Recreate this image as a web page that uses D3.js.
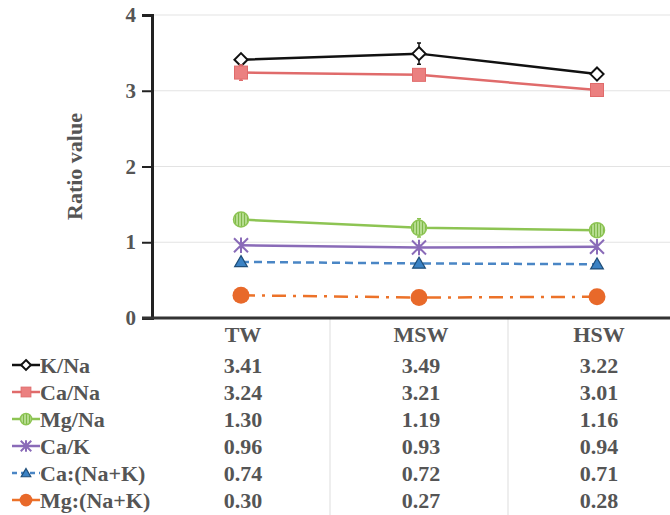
<!DOCTYPE html>
<html>
<head>
<meta charset="utf-8">
<script src="https://cdn.jsdelivr.net/npm/d3@7"></script>
<style>
  body { margin: 0; background: #fff; }
  svg { display: block; }
</style>
</head>
<body>
<svg id="chart"></svg>
<script>
// data
const categories = ['TW', 'MSW', 'HSW'];
const seriesNames = ['K/Na', 'Ca/Na', 'Mg/Na', 'Ca/K', 'Ca:(Na+K)', 'Mg:(Na+K)'];
const kNa = [3.41, 3.49, 3.22];
const caNa = [3.24, 3.21, 3.01];
const mgNa = [1.30, 1.19, 1.16];
const caK = [0.96, 0.93, 0.94];
const caNaK = [0.74, 0.72, 0.71];
const mgNaK = [0.30, 0.27, 0.28];
// error bar half widths (estimated)
const kNaErr = [0.04, 0.14, 0.03];
const caNaErr = [0.10, 0.05, 0.03];
const mgNaErr = [0.05, 0.12, 0.04];
const caKErr = [0.03, 0.03, 0.03];
const caNaKErr = [0.02, 0.02, 0.02];
const mgNaKErr = [0.02, 0.02, 0.02];
const yTicks = [0, 1, 2, 3, 4];

// drawing constants
const W = 670, H = 515;
const LEFT = 152, RIGHT = 686, TOP = 15, BOTTOM = 318;
const FONT = '"Liberation Serif", "Times New Roman", serif';
const TEXT_COLOR = '#555';
const FS = 22;

const series = [
  {name: seriesNames[0], values: kNa, err: kNaErr, color: '#111', marker: 'diamond', dash: null},
  {name: seriesNames[1], values: caNa, err: caNaErr, color: '#e06b6b', marker: 'square', dash: null},
  {name: seriesNames[2], values: mgNa, err: mgNaErr, color: '#8dc453', marker: 'stripe', dash: null},
  {name: seriesNames[3], values: caK, err: caKErr, color: '#8a6bb8', marker: 'star', dash: null},
  {name: seriesNames[4], values: caNaK, err: caNaKErr, color: '#4a86c5', marker: 'triangle', dash: '8,5'},
  {name: seriesNames[5], values: mgNaK, err: mgNaKErr, color: '#ec7229', marker: 'circle', dash: '14,7,3,7'}
];

const svg = d3.select('#chart')
  .attr('width', W)
  .attr('height', H)
  .style('font-family', FONT)
  .style('font-weight', 'bold');

// pattern for the striped green marker
const defs = svg.append('defs');
const pat = defs.append('pattern')
  .attr('id', 'stripes')
  .attr('patternUnits', 'userSpaceOnUse')
  .attr('width', 3)
  .attr('height', 3);
pat.append('rect').attr('width', 3).attr('height', 3).attr('fill', '#b5dc8e');
pat.append('rect').attr('width', 1).attr('height', 3).attr('fill', '#7fb84a');

const x = d3.scaleBand().domain(categories).range([LEFT, RIGHT]);
const y = d3.scaleLinear().domain([0, 4]).range([BOTTOM, TOP]);

// gridlines
svg.append('g')
  .selectAll('line')
  .data(yTicks.slice(1))
  .join('line')
  .attr('x1', LEFT).attr('x2', W)
  .attr('y1', d => y(d)).attr('y2', d => y(d))
  .attr('stroke', '#e3e3e3')
  .attr('stroke-width', 1);

// vertical separators running through the table
svg.append('g')
  .selectAll('line')
  .data(categories.slice(1))
  .join('line')
  .attr('x1', d => x(d)).attr('x2', d => x(d))
  .attr('y1', BOTTOM).attr('y2', H)
  .attr('stroke', '#ddd')
  .attr('stroke-width', 1);

// y axis
const yAxis = svg.append('g')
  .attr('transform', `translate(${LEFT},0)`)
  .call(d3.axisLeft(y).tickValues(yTicks).tickSize(10).tickPadding(6).tickFormat(d3.format('d')));
yAxis.select('.domain').attr('stroke', '#222').attr('stroke-width', 3);
yAxis.selectAll('.tick line').attr('stroke', '#222').attr('stroke-width', 2);
yAxis.selectAll('.tick text')
  .style('font-family', FONT)
  .style('font-size', '21px')
  .style('font-weight', 'bold')
  .attr('fill', TEXT_COLOR);

// x axis line
svg.append('line')
  .attr('x1', LEFT - 10).attr('x2', W)
  .attr('y1', BOTTOM).attr('y2', BOTTOM)
  .attr('stroke', '#333')
  .attr('stroke-width', 3);

// y title
svg.append('text')
  .attr('transform', `translate(82,${(TOP + BOTTOM) / 2}) rotate(-90)`)
  .attr('text-anchor', 'middle')
  .style('font-size', FS + 'px')
  .attr('fill', TEXT_COLOR)
  .text('Ratio value');

function drawMarker(g, s, size) {
  const k = size / 12;
  if (s.marker === 'diamond') {
    g.append('path')
      .attr('d', d3.symbol(d3.symbolDiamond2, 110 * k * k)())
      .attr('fill', '#fff').attr('stroke', s.color).attr('stroke-width', 2);
  } else if (s.marker === 'square') {
    g.append('rect')
      .attr('x', -6.5 * k).attr('y', -6.5 * k)
      .attr('width', 13 * k).attr('height', 13 * k)
      .attr('fill', '#eb8080').attr('stroke', '#e06b6b');
  } else if (s.marker === 'stripe') {
    g.append('circle').attr('r', 7.5 * k)
      .attr('fill', 'url(#stripes)').attr('stroke', '#8dc453').attr('stroke-width', 1.5);
  } else if (s.marker === 'star') {
    const r = 7 * k;
    g.append('path')
      .attr('d', `M${-r},${-r}L${r},${r}M${-r},${r}L${r},${-r}M0,${-r * 1.1}L0,${r * 1.1}`)
      .attr('stroke', s.color).attr('stroke-width', 2);
  } else if (s.marker === 'triangle') {
    g.append('path')
      .attr('d', d3.symbol(d3.symbolTriangle, 70 * k * k)())
      .attr('transform', 'translate(0,1)')
      .attr('fill', '#3b82c4').attr('stroke', '#1f4e79').attr('stroke-width', 1.2);
  } else if (s.marker === 'circle') {
    g.append('circle').attr('r', 8.5 * k).attr('fill', '#e8692a');
  }
}

const line = d3.line()
  .x(d => x(d.cat) + x.bandwidth() / 2)
  .y(d => y(d.v));

series.forEach(s => {
  const pts = categories.map((c, i) => ({cat: c, v: s.values[i], e: s.err[i]}));
  const g = svg.append('g');
  g.append('path')
    .attr('d', line(pts))
    .attr('fill', 'none')
    .attr('stroke', s.color)
    .attr('stroke-width', 2.5)
    .attr('stroke-dasharray', s.dash);
  // error bars
  g.selectAll('.err')
    .data(pts)
    .join('path')
    .attr('d', d => {
      const cx = x(d.cat) + x.bandwidth() / 2;
      const y0 = y(d.v - d.e), y1 = y(d.v + d.e);
      return `M${cx},${y0}L${cx},${y1}M${cx - 2},${y0}L${cx + 2},${y0}M${cx - 2},${y1}L${cx + 2},${y1}`;
    })
    .attr('stroke', s.color)
    .attr('stroke-width', 1.5);
  pts.forEach(d => {
    const m = g.append('g')
      .attr('transform', `translate(${x(d.cat) + x.bandwidth() / 2},${y(d.v)})`);
    drawMarker(m, s, 12);
  });
});

// data table under the plot
const ROW0 = 365, ROW_STEP = 27;
svg.append('g')
  .selectAll('text')
  .data(categories)
  .join('text')
  .attr('x', d => x(d) + x.bandwidth() / 2 + 2)
  .attr('y', 334)
  .attr('dy', '0.35em')
  .attr('text-anchor', 'middle')
  .style('font-size', FS + 'px')
  .attr('fill', TEXT_COLOR)
  .text(d => d);

series.forEach((s, r) => {
  const ry = ROW0 + r * ROW_STEP;
  // legend key
  const key = svg.append('g');
  key.append('line')
    .attr('x1', 12).attr('x2', 40)
    .attr('y1', ry).attr('y2', ry)
    .attr('stroke', s.color)
    .attr('stroke-width', 2.5)
    .attr('stroke-dasharray', s.dash ? (s.marker === 'circle' ? null : '5,4') : null);
  const m = key.append('g').attr('transform', `translate(26,${ry})`);
  drawMarker(m, s, 9);
  key.append('text')
    .attr('x', 40).attr('y', ry)
    .attr('dy', '0.35em')
    .style('font-size', FS + 'px')
    .attr('fill', TEXT_COLOR)
    .text(s.name);
  // values
  svg.append('g')
    .selectAll('text')
    .data(categories.map((c, i) => ({cat: c, v: s.values[i]})))
    .join('text')
    .attr('x', d => x(d.cat) + x.bandwidth() / 2 + 2)
    .attr('y', ry)
    .attr('dy', '0.35em')
    .attr('text-anchor', 'middle')
    .style('font-size', FS + 'px')
    .attr('fill', TEXT_COLOR)
    .text(d => d3.format('.2f')(d.v));
});
</script>
</body>
</html>
